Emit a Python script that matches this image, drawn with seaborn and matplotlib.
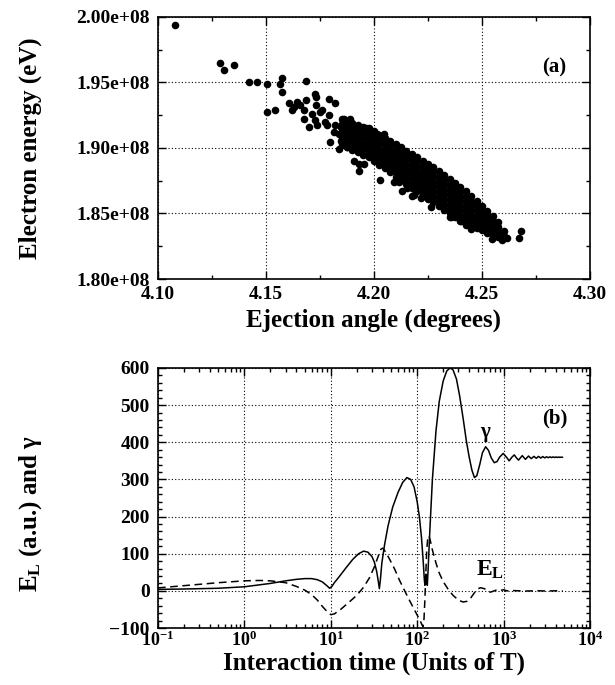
import numpy as np
import pandas as pd
import matplotlib
matplotlib.use("Agg")
import matplotlib.pyplot as plt
import matplotlib.ticker as mticker
import seaborn as sns

# ---- panel (a): ejection angle (deg) vs electron energy (units of 1e8 eV) ----
# isolated points
outlier_angle = [4.1077, 4.1286, 4.1306, 4.1351, 4.1422, 4.1458, 4.1504, 4.1504,
                 4.1543, 4.1563, 4.1574, 4.1574, 4.1685, 4.1605, 4.1620, 4.1644,
                 4.1659, 4.1630, 4.1674, 4.1674, 4.1698, 4.1685, 4.1729, 4.1733,
                 4.1733, 4.1713, 4.1752, 4.1759, 4.1729, 4.1736, 4.1790, 4.1821,
                 4.1790, 4.1775, 4.1782, 4.1798, 4.1821, 4.1813, 4.1837, 4.1845,
                 4.1845, 4.1860, 4.1868, 4.1837, 4.1876, 4.1883, 4.1883, 4.1860,
                 4.1891, 4.1876, 4.1906, 4.1961, 4.2015, 4.2045, 4.1852, 4.1906,
                 4.1929, 4.1953, 4.1937, 4.1922, 4.1968, 4.2030, 4.2092, 4.2115,
                 4.2131, 4.2177, 4.2216, 4.2262, 4.2154, 4.2185, 4.2354, 4.2401,
                 4.2355, 4.2448, 4.2548, 4.2618, 4.2595, 4.2680, 4.2672, 4.1930]
outlier_energy = [1.9936, 1.9649, 1.9596, 1.9634, 1.9504, 1.9504, 1.9487, 1.9274,
                  1.9287, 1.9492, 1.9538, 1.9428, 1.9512, 1.9343, 1.9287, 1.9351,
                  1.9326, 1.9310, 1.9287, 1.9224, 1.9159, 1.9369, 1.9415, 1.9389,
                  1.9326, 1.9262, 1.9274, 1.9292, 1.9211, 1.9172, 1.9377, 1.9343,
                  1.9249, 1.9198, 1.9172, 1.9044, 1.9172, 1.9121, 1.9109, 1.9057,
                  1.9159, 1.9211, 1.9121, 1.8994, 1.9006, 1.9057, 1.9172, 1.9224,
                  1.9224, 1.9173, 1.9134, 1.9155, 1.9109, 1.9109, 1.9096, 1.8904,
                  1.8822, 1.8879, 1.8979, 1.9032, 1.9083, 1.8756, 1.8738, 1.8738,
                  1.8669, 1.8636, 1.8618, 1.8552, 1.8695, 1.8643, 1.8474, 1.8443,
                  1.8475, 1.8381, 1.8304, 1.8312, 1.8296, 1.8368, 1.8312, 1.8879]

# dense band, read column by column
band_angle = [4.1850, 4.1875, 4.1900, 4.1925, 4.1950,
              4.1975, 4.2000, 4.2025, 4.2050, 4.2075, 4.2100, 4.2125, 4.2150,
              4.2175, 4.2200, 4.2225, 4.2250, 4.2275, 4.2300, 4.2325, 4.2350,
              4.2375, 4.2400, 4.2425, 4.2450, 4.2475, 4.2500, 4.2525, 4.2550,
              4.2575, 4.2600]
band_energy = [
    [1.9225, 1.9185, 1.9145, 1.9105, 1.9065, 1.9025],
    [1.9209, 1.9168, 1.9128, 1.9087, 1.9047, 1.9006],
    [1.9193, 1.9152, 1.9111, 1.9069, 1.9028, 1.8987],
    [1.9177, 1.9135, 1.9093, 1.9052, 1.9010, 1.8968],
    [1.9161, 1.9119, 1.9076, 1.9034, 1.8991, 1.8949],
    [1.9155, 1.9118, 1.9080, 1.9043, 1.9005, 1.8968, 1.8930],
    [1.9128, 1.9091, 1.9053, 1.9016, 1.8979, 1.8941, 1.8904],
    [1.9103, 1.9065, 1.9027, 1.8988, 1.8950, 1.8912, 1.8874],
    [1.9079, 1.9040, 1.9001, 1.8962, 1.8922, 1.8883, 1.8844],
    [1.9054, 1.9020, 1.8985, 1.8951, 1.8916, 1.8882, 1.8847, 1.8813],
    [1.9028, 1.8993, 1.8957, 1.8922, 1.8887, 1.8852, 1.8816, 1.8781],
    [1.9005, 1.8969, 1.8933, 1.8897, 1.8861, 1.8825, 1.8789, 1.8753],
    [1.8978, 1.8942, 1.8906, 1.8870, 1.8833, 1.8797, 1.8761, 1.8725],
    [1.8953, 1.8916, 1.8880, 1.8843, 1.8807, 1.8770, 1.8734, 1.8697],
    [1.8928, 1.8891, 1.8854, 1.8817, 1.8780, 1.8743, 1.8706, 1.8669],
    [1.8903, 1.8866, 1.8828, 1.8791, 1.8753, 1.8716, 1.8678, 1.8641],
    [1.8878, 1.8840, 1.8802, 1.8764, 1.8727, 1.8689, 1.8651, 1.8613],
    [1.8854, 1.8815, 1.8777, 1.8738, 1.8700, 1.8661, 1.8623, 1.8584],
    [1.8823, 1.8785, 1.8747, 1.8709, 1.8670, 1.8632, 1.8594, 1.8556],
    [1.8792, 1.8754, 1.8717, 1.8679, 1.8641, 1.8603, 1.8566, 1.8528],
    [1.8761, 1.8724, 1.8686, 1.8649, 1.8612, 1.8575, 1.8537, 1.8500],
    [1.8730, 1.8693, 1.8656, 1.8619, 1.8583, 1.8546, 1.8509, 1.8472],
    [1.8699, 1.8663, 1.8626, 1.8590, 1.8553, 1.8517, 1.8481, 1.8444],
    [1.8668, 1.8632, 1.8596, 1.8560, 1.8524, 1.8488, 1.8452, 1.8416],
    [1.8635, 1.8596, 1.8557, 1.8518, 1.8478, 1.8439, 1.8400],
    [1.8597, 1.8562, 1.8527, 1.8492, 1.8456, 1.8421, 1.8386],
    [1.8559, 1.8522, 1.8484, 1.8447, 1.8409, 1.8372],
    [1.8520, 1.8487, 1.8454, 1.8420, 1.8387, 1.8354],
    [1.8479, 1.8443, 1.8408, 1.8372, 1.8336],
    [1.8436, 1.8397, 1.8358, 1.8319],
    [1.8365, 1.8330],
]

# ---- panel (b): gamma and laser field vs interaction time (units of T) ----
gamma_time = [0.1, 0.2, 0.5, 1.0, 2.0, 3.0, 4.0, 5.0, 6.0, 7.0, 8.0, 9.0, 9.7,
              10.3, 11, 12.5, 15, 18, 21, 24, 27, 30, 32, 34, 35.5, 36.5, 37.5,
              39, 42, 46, 52, 60, 68, 76, 84, 92, 100, 106, 112, 117, 121, 123,
              126, 128, 131, 134, 140, 150, 165, 180, 200, 220, 240, 260, 285,
              310, 340, 370, 400, 430, 460, 490, 530, 570, 620, 670, 720, 780,
              840, 900, 990, 1080, 1160, 1250, 1330, 1410, 1490, 1644, 1790,
              1944, 2090, 2244, 2390, 2544, 2690, 2844, 2990, 3144, 3290, 3444,
              3590, 3744, 3890, 4044, 4190, 4344, 4490, 4644, 4830]
gamma_value = [4, 5, 7, 11, 20, 27, 31, 33, 33, 30, 24, 14, 7,
               12, 22, 38, 62, 85, 100, 107, 104, 92, 77, 52, 25, 6, 30,
               75, 125, 175, 225, 265, 292, 305, 300, 280, 240, 200, 145, 85, 30, 15,
               45, 40, 15, 60, 160, 300, 430, 510, 565, 592, 600, 595, 570,
               525, 465, 405, 360, 325, 305, 310, 340, 372, 388, 378, 358, 345,
               348, 360, 370, 360, 350, 360, 366, 358, 352, 364, 354,
               363, 356, 362, 357, 362, 357.5, 361.5, 358, 361, 358.5, 360.8,
               358.8, 360.6, 359, 360.4, 359.2, 360.2, 359.4, 360, 359.6]

field_time = [0.1, 0.2, 0.5, 1.0, 1.5, 2.0, 3.0, 4.0, 5.0, 6.0, 7.0, 8.0, 9.0,
              10.0, 11, 13, 16, 20, 24, 28, 32, 35, 38, 40, 43, 48, 55, 62, 70,
              80, 90, 100, 108, 114, 117, 120, 123, 126, 129, 133, 137, 142, 150,
              165, 180, 200, 230, 260, 300, 340, 380, 420, 460, 500, 540, 600,
              650, 700, 760, 820, 900, 1000, 1100, 1200, 1400, 1800, 2400, 3000,
              4000, 4830]
field_value = [8, 14, 22, 27, 28, 27, 22, 12, 2, -10, -25, -42, -55,
               -64, -62, -50, -32, -12, 10, 35, 65, 90, 112, 115, 105, 85, 58, 30, 5,
               -22, -45, -65, -80, -92, -96, -75, -20, 50, 110, 146, 148, 135, 110,
               75, 48, 25, 3, -12, -25, -30, -28, -18, -5, 5, 8.5, 6,
               0, -3.5, -1, 2, 0.5, 3, 0, 1, 0.5, -0.5, 0.3, -0.2,
               0.1, 0]

# ---- build tables ----
angles = list(outlier_angle)
energies = list(outlier_energy)
for a, col in zip(band_angle, band_energy):
    angles += [a] * len(col)
    energies += col
df_a = pd.DataFrame({"angle": angles, "energy": [e * 1e8 for e in energies]})
df_gamma = pd.DataFrame({"time": gamma_time, "value": gamma_value})
df_field = pd.DataFrame({"time": field_time, "value": field_value})

# ---- style ----
sns.set_style("ticks", rc={
    "axes.edgecolor": "black", "axes.labelcolor": "black", "text.color": "black",
    "xtick.color": "black", "ytick.color": "black",
    "xtick.direction": "in", "ytick.direction": "in",
})
plt.rcParams["font.family"] = ["Liberation Serif", "DejaVu Serif"]
plt.rcParams["font.weight"] = "bold"
plt.rcParams["axes.labelweight"] = "bold"
plt.rcParams["mathtext.fontset"] = "custom"
plt.rcParams["mathtext.rm"] = "Liberation Serif:bold"
plt.rcParams["mathtext.bf"] = "Liberation Serif:bold"
plt.rcParams["mathtext.it"] = "Liberation Serif:bold:italic"

fig = plt.figure(figsize=(6.15, 6.85), dpi=100)
ax_a = fig.add_axes([0.2569, 0.5927, 0.7024, 0.3825])
ax_b = fig.add_axes([0.2569, 0.0832, 0.7024, 0.3796])

grid_kw = dict(color="black", linestyle=(0, (1, 2)), linewidth=0.8)


def style_axes(ax):
    for sp in ax.spines.values():
        sp.set_linewidth(1.2)
        sp.set_visible(True)
    ax.tick_params(which="both", direction="in", top=True, right=True,
                   labelsize=14, width=1.0, pad=6)
    ax.tick_params(which="major", length=6)
    ax.tick_params(which="minor", length=3)
    ax.grid(True, which="major", **grid_kw)
    ax.set_axisbelow(True)


# (a) scatter
sns.scatterplot(data=df_a, x="angle", y="energy", ax=ax_a, color="black",
                s=30, linewidth=0, zorder=3)
ax_a.set_xlim(4.10, 4.30)
ax_a.set_ylim(1.80e8, 2.00e8)
ax_a.xaxis.set_major_locator(mticker.MultipleLocator(0.05))
ax_a.xaxis.set_minor_locator(mticker.MultipleLocator(0.025))
ax_a.yaxis.set_major_locator(mticker.MultipleLocator(0.05e8))
ax_a.yaxis.set_minor_locator(mticker.MultipleLocator(0.025e8))
ax_a.xaxis.set_major_formatter(mticker.FormatStrFormatter("%.2f"))
ax_a.yaxis.set_major_formatter(mticker.FormatStrFormatter("%.2e"))
style_axes(ax_a)
ax_a.tick_params(axis="x", pad=5)
ax_a.set_xlabel("Ejection angle (degrees)", fontsize=18)
ax_a.set_ylabel("Electron energy (eV)", fontsize=18)
ax_a.xaxis.set_label_coords(0.5, -0.112)
ax_a.yaxis.set_label_coords(-0.268, 0.5)
ax_a.text(4.2833, 1.9617e8, "(a)", ha="center", va="center", fontsize=15)

# (b) gamma and E_L
ax_b.set_xscale("log")
sns.lineplot(data=df_gamma, x="time", y="value", ax=ax_b, color="black",
             linewidth=1.1, sort=False, estimator=None)
sns.lineplot(data=df_field, x="time", y="value", ax=ax_b, color="black",
             linewidth=1.1, sort=False, estimator=None, linestyle=(0, (5, 3)))
ax_b.set_xlim(0.1, 1e4)
ax_b.set_ylim(-100, 600)
ax_b.xaxis.set_major_locator(mticker.LogLocator(base=10, numticks=10))
ax_b.xaxis.set_minor_locator(mticker.LogLocator(base=10, subs=range(2, 10), numticks=20))
ax_b.xaxis.set_major_formatter(mticker.FuncFormatter(
    lambda v, p: r"$\mathbf{10^{%d}}$" % int(round(np.log10(v)))))
ax_b.xaxis.set_minor_formatter(mticker.NullFormatter())
ax_b.yaxis.set_major_locator(mticker.MultipleLocator(100))
ax_b.yaxis.set_minor_locator(mticker.MultipleLocator(20))
style_axes(ax_b)
ax_b.tick_params(axis="x", pad=2, labelsize=13)
ax_b.set_xlabel("Interaction time (Units of T)", fontsize=18)
ax_b.set_ylabel(r"$\mathbf{E_L}$ (a.u.) and γ", fontsize=18)
ax_b.xaxis.set_label_coords(0.5, -0.09)
ax_b.yaxis.set_label_coords(-0.265, 0.44)
ax_b.text(3880, 465, "(b)", ha="center", va="center", fontsize=15)
ax_b.text(610, 414, "γ", ha="center", va="baseline", fontsize=15)
ax_b.text(480, 40, r"$\mathbf{E_L}$", ha="left", va="baseline", fontsize=17)

fig.savefig("out.png", dpi=100)
